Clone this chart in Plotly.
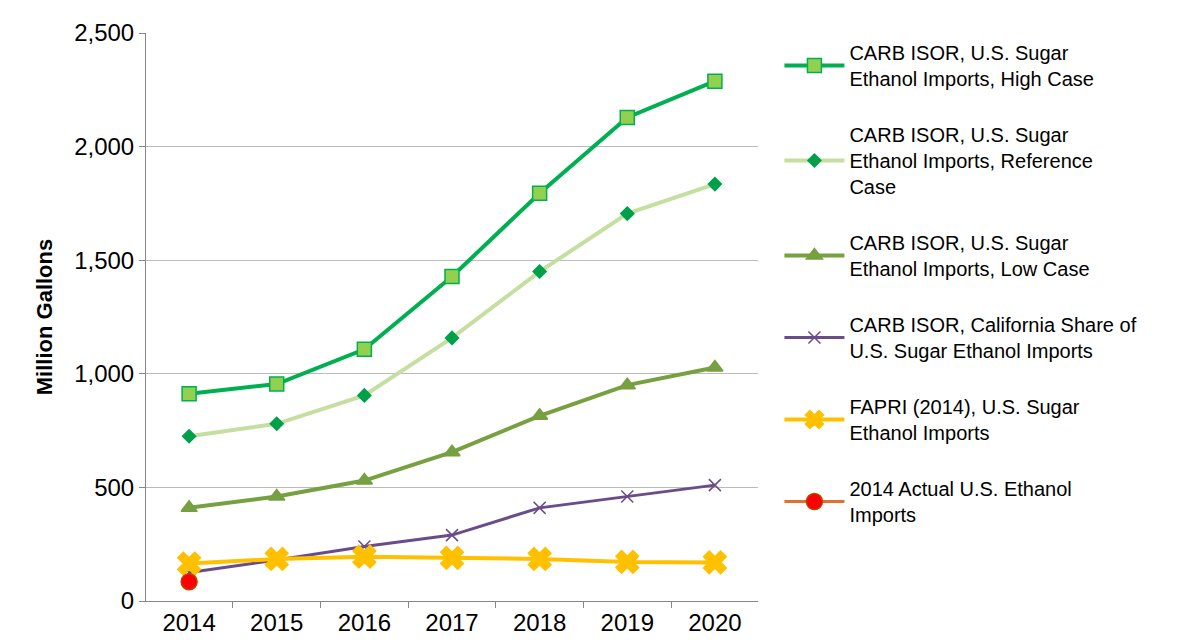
import plotly.graph_objects as go

years = ["2014","2015","2016","2017","2018","2019","2020"]
high = [912, 955, 1108, 1428, 1795, 2128, 2288]
ref = [725, 780, 905, 1158, 1450, 1705, 1835]
low = [410, 460, 530, 655, 815, 950, 1028]
ca = [125, 180, 240, 290, 410, 460, 510]
fapri = [165, 185, 195, 190, 185, 172, 170]
actual_years = ["2014"]
actual = [85]

fig = go.Figure()
def add(y, x, name, color, sym, size, lw, mcolor, mline, grp):
    fig.add_trace(go.Scatter(x=x, y=y, name=name, mode="lines+markers", legendgroup=grp,
        line=dict(color=color, width=lw),
        marker=dict(symbol=sym, size=size, color=mcolor, line=dict(color=mline, width=1.5))))

add(high, years, "CARB ISOR, U.S. Sugar<br>Ethanol Imports, High Case", "#00b050", "square", 14, 4, "#92d050", "#00b050", "a")
add(ref, years, "CARB ISOR, U.S. Sugar<br>Ethanol Imports, Reference<br>Case", "#c4dfa0", "diamond", 10, 4, "#00a04a", "#00a04a", "b")
add(low, years, "CARB ISOR, U.S. Sugar<br>Ethanol Imports, Low Case", "#77a040", "triangle-up", 14, 4, "#77a040", "#77a040", "c")
add(ca, years, "CARB ISOR, California Share of<br>U.S. Sugar Ethanol Imports", "#6b4c8a", "x-thin", 12, 3, "#6b4c8a", "#6b4c8a", "d")
add(fapri, years, "FAPRI (2014), U.S. Sugar<br>Ethanol Imports", "#ffc000", "x", 20, 4, "#ffc000", "#ffc000", "e")
add(actual, actual_years, "2014 Actual U.S. Ethanol<br>Imports", "#e07030", "circle", 16, 3, "#ff0000", "#c04000", "f")

fig.update_layout(
    width=1195, height=642, plot_bgcolor="white", paper_bgcolor="white",
    margin=dict(l=138, r=445, t=25, b=49),
    font=dict(family="Liberation Sans, Arial", size=20, color="black"),
    legend=dict(x=1.035, y=1.0, yanchor="top", tracegroupgap=27, font=dict(size=20), itemwidth=60),
    showlegend=True,
)
fig.update_xaxes(type="category", tickson="boundaries", ticks="outside", ticklen=6,
    tickcolor="#888", showline=True, linecolor="#888", showgrid=False, tickfont=dict(size=24))
fig.update_yaxes(range=[0, 2500], dtick=500, tickformat=",", showgrid=True, gridcolor="#bbb",
    showline=True, linecolor="#888", ticks="outside", tickcolor="#888", ticklen=6,
    title=dict(text="<b>Million Gallons</b>", font=dict(size=22)), tickfont=dict(size=24))
fig.write_html("out.html")
